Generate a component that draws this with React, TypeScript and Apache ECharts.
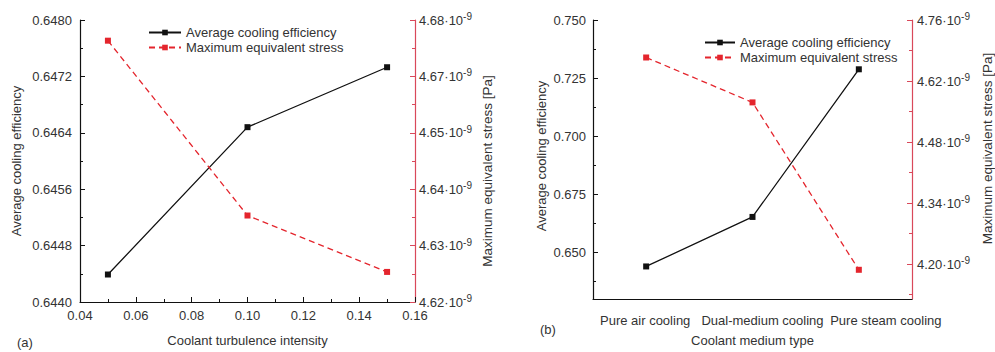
import React, { useEffect, useRef } from "react";
import * as echarts from "echarts";

// ---------- data ----------
const turbulence = [0.05, 0.1, 0.15];
const effA = [0.64439, 0.64648, 0.64733];
const stressA = [4.6756, 4.6384, 4.6264]; // x 1e-9
const stressLabelsA = ["4.62", "4.63", "4.64", "4.65", "4.67", "4.68"]; // bottom -> top

const categoriesB = ["Pure air cooling", "Dual-medium cooling", "Pure steam cooling"];
const effB = [0.644, 0.6653, 0.7288];
const stressB = [4.674, 4.571, 4.187]; // x 1e-9
const effTicksB = [0.65, 0.675, 0.7, 0.725, 0.75];
const effMinorB = [0.6375, 0.6625, 0.6875, 0.7125, 0.7375];
const stressTicksB = [4.2, 4.34, 4.48, 4.62, 4.76];
const stressMinorB = [4.13, 4.27, 4.41, 4.55, 4.69];

const NAME_EFF = "Average cooling efficiency";
const NAME_STRESS = "Maximum equivalent stress";

const FONT = "'Liberation Sans', Arial, sans-serif";
const TXT = "#333";
const RED = "#e4252d";
const RED_AXIS = "#d9485a";
const FS = 13;

const superRich = {
  n: { fontSize: FS, color: TXT, fontFamily: FONT, lineHeight: 17 },
  s: { fontSize: 10, color: TXT, fontFamily: FONT, lineHeight: 10, verticalAlign: "top" },
};

const catRich: any = {
  c0: { fontSize: FS, color: TXT, fontFamily: FONT, padding: [0, 2, 0, 0] },
  c1: { fontSize: FS, color: TXT, fontFamily: FONT, padding: [0, 0, 0, 20] },
  c2: { fontSize: FS, color: TXT, fontFamily: FONT, padding: [0, 0, 0, 54] },
};

export default function App() {
  const ref = useRef<HTMLDivElement>(null);
  useEffect(() => {
    const chart = echarts.init(ref.current!, null, { renderer: "svg" });
    const axisText = { color: TXT, fontSize: FS, fontFamily: FONT };
    const nameText = { color: TXT, fontSize: FS, fontFamily: FONT };
    const blackLine = { color: "#111", width: 1.3 };
    const option: any = {
      animation: false,
      textStyle: { fontFamily: FONT },
      grid: [
        { left: 80, right: 580, top: 20, bottom: 49 },
        { left: 593, right: 82, top: 20, bottom: 50 },
      ],
      legend: [
        {
          left: 148, top: 26, orient: "vertical", padding: 0, itemWidth: 32, itemHeight: 7, itemGap: 2,
          textStyle: { ...axisText },
          data: [NAME_EFF, NAME_STRESS],
        },
        {
          left: 704, top: 36, orient: "vertical", padding: 0, itemWidth: 30, itemHeight: 7, itemGap: 2,
          textStyle: { ...axisText },
          data: [NAME_EFF, NAME_STRESS],
        },
      ],
      xAxis: [
        {
          type: "value", gridIndex: 0, min: 0.04, max: 0.16, interval: 0.02,
          name: "Coolant turbulence intensity", nameLocation: "middle", nameGap: 32,
          nameTextStyle: nameText,
          axisLine: { lineStyle: { color: "#111", width: 1.2 } },
          axisTick: { inside: true, length: 5, lineStyle: { color: "#111" } },
          minorTick: { show: true, splitNumber: 2, length: 3, lineStyle: { color: "#111" } },
          splitLine: { show: false },
          minorSplitLine: { show: false },
          axisLabel: { ...axisText, margin: 7, formatter: (v: number) => v.toFixed(2) },
        },
        {
          type: "category", gridIndex: 1, data: categoriesB, boundaryGap: true,
          name: "Coolant medium type", nameLocation: "middle", nameGap: 35,
          nameTextStyle: nameText,
          axisLine: { lineStyle: { color: "#111", width: 1.2 } },
          axisTick: { inside: true, length: 5, alignWithLabel: true, lineStyle: { color: "#111" } },
          axisLabel: {
            ...axisText, margin: 15, interval: 0, rich: catRich,
            formatter: (v: string, i: number) => `{c${i}|${v}}`,
          },
        },
        {
          type: "category", gridIndex: 1, data: categoriesB, boundaryGap: true, position: "bottom",
          axisLine: { show: false },
          axisTick: { inside: true, length: 3, lineStyle: { color: "#111" } },
          axisLabel: { show: false },
        },
      ],
      yAxis: [
        {
          type: "value", gridIndex: 0, position: "left", min: 0.644, max: 0.648, interval: 0.0008,
          name: "Average cooling efficiency", nameLocation: "middle", nameGap: 57, nameRotate: 90,
          nameTextStyle: nameText,
          axisLine: { show: true, lineStyle: { color: "#111", width: 1.2 } },
          axisTick: { show: true, inside: true, length: 5, lineStyle: { color: "#111" } },
          minorTick: { show: true, splitNumber: 2, length: 3, lineStyle: { color: "#111" } },
          splitLine: { show: false },
          minorSplitLine: { show: false },
          axisLabel: { ...axisText, margin: 8, formatter: (v: number) => v.toFixed(4) },
        },
        {
          type: "value", gridIndex: 0, position: "right", min: 4.62, max: 4.68, interval: 0.012,
          name: "Maximum equivalent stress [Pa]", nameLocation: "middle", nameGap: 65, nameRotate: 90,
          nameTextStyle: { ...nameText, fontSize: 13.5, padding: [0, 20, 0, 0] },
          axisLine: { show: true, lineStyle: { color: RED_AXIS, width: 1.2 } },
          axisTick: { show: true, inside: true, length: 5, lineStyle: { color: RED_AXIS } },
          minorTick: { show: true, splitNumber: 2, length: 3, lineStyle: { color: RED_AXIS } },
          splitLine: { show: false },
          minorSplitLine: { show: false },
          axisLabel: {
            margin: 4, rich: superRich,
            formatter: (_v: number, i: number) => `{n|${stressLabelsA[i]}·10}{s|-9}`,
          },
        },
        {
          type: "value", gridIndex: 1, position: "left", min: 0.63, max: 0.75,
          name: "Average cooling efficiency", nameLocation: "middle", nameGap: 45, nameRotate: 90,
          nameTextStyle: { ...nameText, padding: [0, 0, 0, 7] },
          axisLine: { show: true, lineStyle: { color: "#111", width: 1.2 } },
          axisTick: { show: true, inside: true, length: 5, customValues: effTicksB, lineStyle: { color: "#111" } },
          splitLine: { show: false },
          axisLabel: { ...axisText, margin: 7, customValues: effTicksB, formatter: (v: number) => v.toFixed(3) },
        },
        {
          type: "value", gridIndex: 1, position: "right", min: 4.12, max: 4.76,
          name: "Maximum equivalent stress [Pa]", nameLocation: "middle", nameGap: 68, nameRotate: 90,
          nameTextStyle: { ...nameText, fontSize: 13.5, padding: [0, 0, 0, 22] },
          axisLine: { show: true, lineStyle: { color: RED_AXIS, width: 1.2 } },
          axisTick: { show: true, inside: true, length: 5, customValues: stressTicksB, lineStyle: { color: RED_AXIS } },
          splitLine: { show: false },
          axisLabel: {
            margin: 5, rich: superRich, customValues: stressTicksB,
            formatter: (v: number) => `{n|${v.toFixed(2)}·10}{s|-9}`,
          },
        },
        {
          type: "value", gridIndex: 1, position: "left", min: 0.63, max: 0.75,
          axisLine: { show: false },
          axisTick: { show: true, inside: true, length: 3, customValues: effMinorB, lineStyle: { color: "#111" } },
          splitLine: { show: false },
          axisLabel: { show: false },
        },
        {
          type: "value", gridIndex: 1, position: "right", min: 4.12, max: 4.76,
          axisLine: { show: false },
          axisTick: { show: true, inside: true, length: 3, customValues: stressMinorB, lineStyle: { color: RED_AXIS } },
          splitLine: { show: false },
          axisLabel: { show: false },
        },
      ],
      graphic: [
        { type: "text", left: 17, top: 336, style: { text: "(a)", fill: TXT, font: `${FS}px ${FONT}` } },
        { type: "text", left: 540, top: 323, style: { text: "(b)", fill: TXT, font: `${FS}px ${FONT}` } },
      ],
      series: [
        {
          name: NAME_EFF, type: "line", xAxisIndex: 0, yAxisIndex: 0,
          data: turbulence.map((x, i) => [x, effA[i]]),
          symbol: "rect", symbolSize: 6, lineStyle: blackLine, itemStyle: { color: "#111" },
        },
        {
          name: NAME_STRESS, type: "line", xAxisIndex: 0, yAxisIndex: 1,
          data: turbulence.map((x, i) => [x, stressA[i]]),
          symbol: "rect", symbolSize: 6,
          lineStyle: { color: RED, width: 1.3, type: [6, 4] }, itemStyle: { color: RED },
        },
        {
          name: NAME_EFF, type: "line", xAxisIndex: 1, yAxisIndex: 2,
          data: effB,
          symbol: "rect", symbolSize: 6, lineStyle: blackLine, itemStyle: { color: "#111" },
        },
        {
          name: NAME_STRESS, type: "line", xAxisIndex: 1, yAxisIndex: 3,
          data: stressB,
          symbol: "rect", symbolSize: 6,
          lineStyle: { color: RED, width: 1.3, type: [6, 4] }, itemStyle: { color: RED },
        },
      ],
    };
    chart.setOption(option);
    return () => chart.dispose();
  }, []);
  return (
    <div
      ref={ref}
      style={{ position: "fixed", left: 0, top: 0, width: 995, height: 352, background: "#fff" }}
    />
  );
}
